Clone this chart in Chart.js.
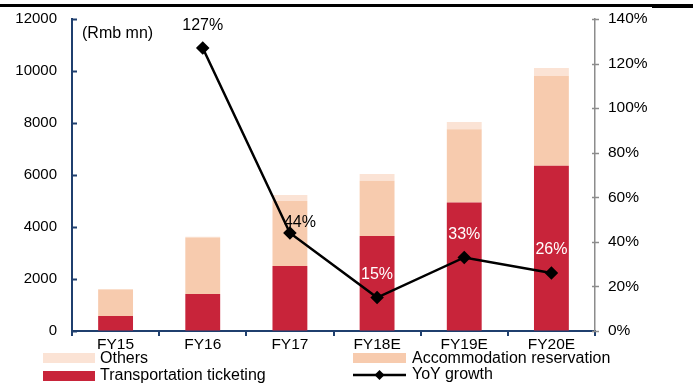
<!DOCTYPE html>
<html>
<head>
<meta charset="utf-8">
<script src="https://cdn.jsdelivr.net/npm/chart.js@4.4.1/dist/chart.umd.min.js"></script>
<style>
  html, body { margin: 0; padding: 0; background: #fff; }
  #wrap { position: relative; width: 693px; height: 385px; font-family: Arial, "Liberation Sans", sans-serif; color: #000; }
  #topbar { position: absolute; left: 0; top: 4px; width: 693px; height: 3px; background: #000; }
  #topbar2 { position: absolute; left: 652px; top: 4px; width: 41px; height: 4px; background: #000; }
  .lg { position: absolute; font-size: 16px; line-height: 18px; white-space: nowrap; }
  .sw { position: absolute; height: 10px; }
</style>
</head>
<body>
<div id="wrap">
  <canvas id="c" width="693" height="385"></canvas>
  <div id="topbar"></div><div id="topbar2"></div>
  <div class="sw" style="left:43px;top:353px;width:52px;background:#FBE3D5"></div>
  <div class="lg" style="left:100px;top:349px">Others</div>
  <div class="sw" style="left:43px;top:371px;width:52px;background:#C8243A"></div>
  <div class="lg" style="left:100px;top:366px">Transportation ticketing</div>
  <div class="sw" style="left:353px;top:353px;width:53px;background:#F7CBAE"></div>
  <div class="lg" style="left:412px;top:349px">Accommodation reservation</div>
  <svg style="position:absolute;left:353px;top:368px" width="54" height="14">
    <line x1="0" y1="7" x2="53" y2="7" stroke="#000" stroke-width="2.5"/>
    <polygon points="26.5,2 31.5,7 26.5,12 21.5,7" fill="#000"/>
  </svg>
  <div class="lg" style="left:412px;top:365px">YoY growth</div>
</div>
<script>
const categories = ['FY15', 'FY16', 'FY17', 'FY18E', 'FY19E', 'FY20E'];
const transportation = [580, 1420, 2500, 3650, 4940, 6360];
const accommodation = [1020, 2180, 2500, 2130, 2820, 3450];
const others = [20, 25, 230, 260, 280, 310];
const yoyGrowth = [null, 127, 44, 15, 33, 26];
const leftTicks = [0, 2000, 4000, 6000, 8000, 10000, 12000];
const rightTicks = [0, 20, 40, 60, 80, 100, 120, 140];

const NAVY = '#1F3F6E';
const GREY = '#8C8C8C';
const FAMILY = 'Arial, "Liberation Sans", sans-serif';

// draws the small tick marks, the unit note and the growth labels
const extras = {
  id: 'extras',
  afterDraw(chart) {
    const ctx = chart.ctx;
    const area = chart.chartArea;
    const y = chart.scales.y, y1 = chart.scales.y1;
    ctx.save();
    ctx.lineWidth = 2;
    ctx.strokeStyle = NAVY;
    leftTicks.forEach(v => {
      const py = Math.round(y.getPixelForValue(v)) + 0.5;
      ctx.beginPath(); ctx.moveTo(area.left, py); ctx.lineTo(area.left + 5, py); ctx.stroke();
    });
    const step = (area.right - area.left) / categories.length;
    for (let i = 0; i <= categories.length; i++) {
      const px = Math.round(area.left + i * step);
      ctx.beginPath(); ctx.moveTo(px, area.bottom); ctx.lineTo(px, area.bottom + 5); ctx.stroke();
    }
    ctx.strokeStyle = GREY;
    ctx.lineWidth = 1.5;
    rightTicks.forEach(v => {
      const py = Math.round(y1.getPixelForValue(v)) + 0.5;
      ctx.beginPath(); ctx.moveTo(area.right - 3, py); ctx.lineTo(area.right + 4, py); ctx.stroke();
    });

    ctx.font = '16px ' + FAMILY;
    ctx.fillStyle = '#000';
    ctx.textAlign = 'left';
    ctx.textBaseline = 'middle';
    ctx.fillText('(Rmb mn)', 82, 34);

    const meta = chart.getDatasetMeta(3);
    ctx.textAlign = 'center';
    meta.data.forEach((pt, i) => {
      if (yoyGrowth[i] == null) return;
      let dx = 0, dy = -23, col = '#fff';
      if (i === 1) { dy = -22; col = '#000'; }
      if (i === 2) { dx = 10; dy = -10; col = '#000'; }
      ctx.fillStyle = col;
      ctx.fillText(yoyGrowth[i] + '%', pt.x + dx, pt.y + dy);
    });
    ctx.restore();
  }
};

// keep the tick padding from pushing the plot area down
const trimPad = s => { s.paddingTop = 8; s.paddingBottom = 8; };

new Chart(document.getElementById('c'), {
  data: {
    labels: categories,
    datasets: [
      { type: 'bar', label: 'Transportation ticketing', data: transportation, backgroundColor: '#C8243A', yAxisID: 'y', order: 1, barPercentage: 0.8, categoryPercentage: 0.5 },
      { type: 'bar', label: 'Accommodation reservation', data: accommodation, backgroundColor: '#F7CBAE', yAxisID: 'y', order: 1, barPercentage: 0.8, categoryPercentage: 0.5 },
      { type: 'bar', label: 'Others', data: others, backgroundColor: '#FBE3D5', yAxisID: 'y', order: 1, barPercentage: 0.8, categoryPercentage: 0.5 },
      { type: 'line', label: 'YoY growth', data: yoyGrowth, yAxisID: 'y1', order: 0,
        borderColor: '#000', backgroundColor: '#000', borderWidth: 2.5,
        pointStyle: 'rectRot', pointRadius: 5, pointHoverRadius: 5, tension: 0 }
    ]
  },
  options: {
    responsive: false,
    animation: false,
    events: [],
    layout: { padding: { top: 19, left: 0, right: 0, bottom: 0 } },
    plugins: { legend: { display: false }, tooltip: { enabled: false } },
    scales: {
      x: {
        stacked: true,
        grid: { display: true, drawOnChartArea: false, drawTicks: false, color: NAVY },
        border: { color: NAVY, width: 2 },
        ticks: { color: '#000', font: { family: FAMILY, size: 15.5 }, padding: 4, maxRotation: 0 },
        afterFit: s => { s.height = 54; }
      },
      y: {
        stacked: true, position: 'left', min: 0, max: 12000,
        grid: { display: true, drawOnChartArea: false, drawTicks: false },
        border: { color: NAVY, width: 2 },
        ticks: { stepSize: 2000, color: '#000', font: { family: FAMILY, size: 15 }, padding: 15, callback: v => String(v) },
        afterFit: s => { s.width = 72; trimPad(s); }
      },
      y1: {
        position: 'right', min: 0, max: 140,
        grid: { display: true, drawOnChartArea: false, drawTicks: false },
        border: { color: GREY, width: 1.5 },
        ticks: { stepSize: 20, color: '#000', font: { family: FAMILY, size: 15.5 }, padding: 13, callback: v => v + '%' },
        afterFit: s => { s.width = 98; trimPad(s); }
      }
    }
  },
  plugins: [extras]
});
</script>
</body>
</html>
